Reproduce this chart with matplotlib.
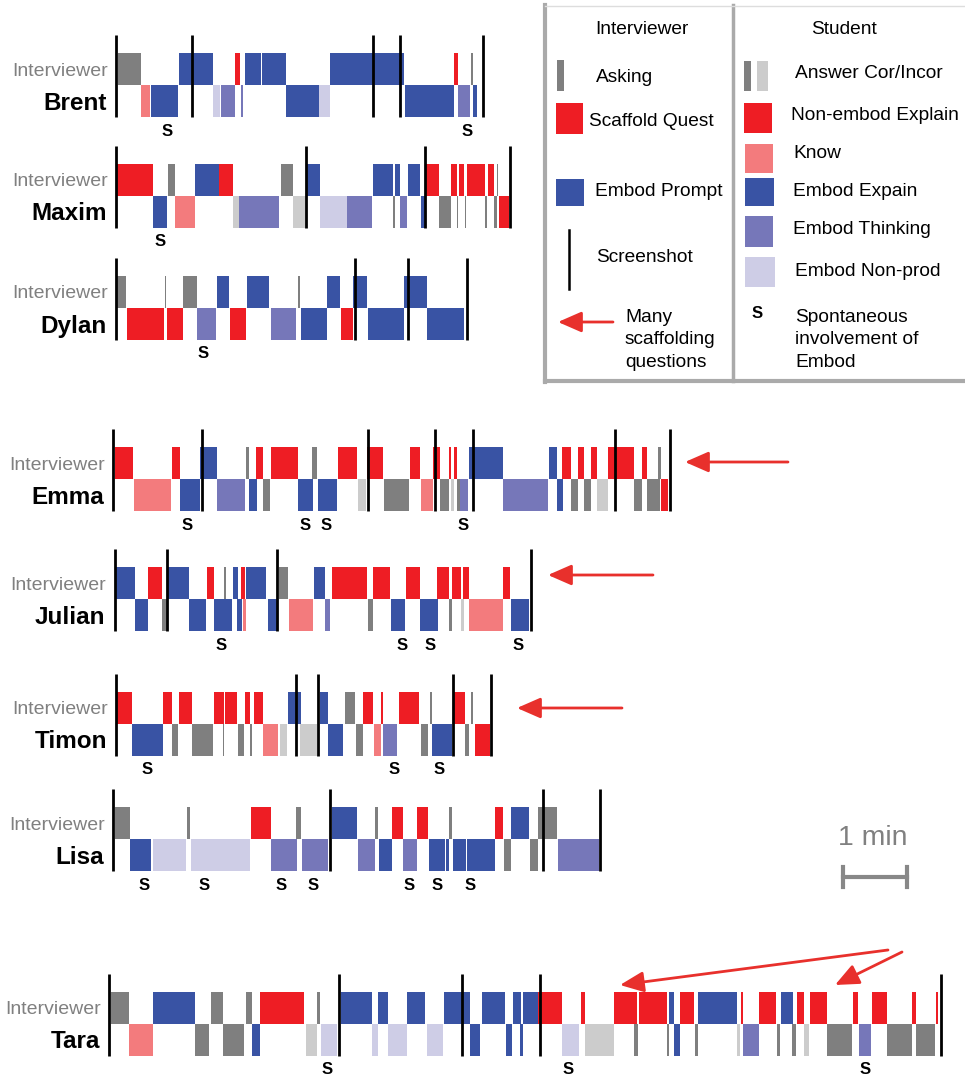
import matplotlib.pyplot as plt
from matplotlib.patches import Rectangle

plt.rcParams['font.family'] = ['Liberation Sans', 'DejaVu Sans']

# Segments are (start s, end s, code), time in seconds from the start of each session
brent_int = [(2, 23, 'ask'), (59, 91, 'prompt'), (112, 116, 'scaf'), (121, 136, 'prompt'),
             (137, 159, 'prompt'), (201, 270, 'prompt'), (317, 321, 'scaf'), (333, 334.5, 'ask')]
brent_stu = [(23, 32, 'know'), (33, 58, 'expl'), (91, 97.5, 'nonprod'), (98, 112, 'think'),
             (117, 119, 'think'), (159, 190, 'expl'), (190, 201, 'nonprod'), (271, 317, 'expl'),
             (321, 332, 'think'), (335, 338, 'expl')]
brent_shots = [0, 71, 241, 266, 344]
brent_s = [48, 329]

maxim_int = [(0, 35, 'scaf'), (49, 55, 'ask'), (74, 97, 'prompt'), (97, 110, 'scaf'),
             (155, 166, 'ask'), (178, 191, 'prompt'), (241, 260, 'prompt'), (262, 266, 'prompt'),
             (274, 285, 'prompt'), (291, 303, 'scaf'), (314, 320, 'scaf'), (322, 326, 'scaf'),
             (329, 346, 'scaf'), (349, 354, 'scaf'), (357, 358.5, 'ask')]
maxim_stu = [(35, 48, 'expl'), (55, 74, 'know'), (110, 115, 'incor'), (115, 153, 'think'),
             (166, 178, 'incor'), (191, 217, 'nonprod'), (217, 240, 'think'), (260, 262, 'cor'),
             (266, 273, 'think'), (286, 291, 'expl'), (303, 314, 'cor'), (320, 321, 'cor'),
             (327, 328, 'cor'), (346, 348, 'cor'), (354, 357, 'cor'), (359, 368, 'nonemb')]
maxim_shots = [0, 178, 290, 369]
maxim_s = [41]

dylan_int = [(0, 9, 'ask'), (46, 47, 'ask'), (63, 76, 'ask'), (95, 106, 'prompt'),
             (123, 143, 'prompt'), (171, 172.5, 'ask'), (198, 210, 'prompt'), (222, 235, 'prompt'),
             (270, 292, 'prompt')]
dylan_stu = [(10, 45, 'nonemb'), (48, 63, 'nonemb'), (76, 94, 'think'), (107, 122, 'nonemb'),
             (145, 169, 'think'), (173, 198, 'expl'), (211, 222, 'nonemb'), (236, 270, 'expl'),
             (292, 326, 'expl')]
dylan_shots = [0, 224, 274, 329]
dylan_s = [82]

emma_int = [(2, 19, 'scaf'), (55, 63, 'scaf'), (82, 97.5, 'prompt'), (125, 127.5, 'ask'),
            (134, 141, 'scaf'), (148, 173, 'scaf'), (187, 191, 'ask'), (211, 229, 'scaf'),
            (238, 253, 'scaf'), (278, 288, 'scaf'), (300, 307, 'scaf'), (315, 317, 'scaf'),
            (320, 322.5, 'scaf'), (334, 366, 'prompt'), (409, 416, 'prompt'), (421, 429, 'scaf'),
            (436, 442, 'scaf'), (448, 454, 'scaf'), (464, 488, 'scaf'), (496, 501, 'scaf'),
            (511, 514, 'ask')]
emma_stu = [(20, 54, 'know'), (63, 82, 'expl'), (97.5, 124, 'think'), (127.5, 135, 'expl'),
            (141, 147, 'cor'), (173, 187.5, 'expl'), (192, 210, 'expl'), (230, 237, 'incor'),
            (254, 277.5, 'cor'), (289, 300, 'know'), (307, 315, 'cor'), (317, 320, 'incor'),
            (322.5, 325, 'cor'), (325, 333, 'think'), (366, 408, 'think'), (416, 422, 'expl'),
            (429, 436, 'cor'), (442, 448, 'cor'), (454, 464, 'incor'), (488, 496, 'cor'),
            (501, 513, 'cor'), (514, 520, 'nonemb')]
emma_shots = [0, 83, 239, 302, 337.5, 471, 522]
emma_s = [69, 180, 200, 328]

julian_int = [(2, 20, 'prompt'), (32, 45, 'scaf'), (50, 70, 'prompt'), (87, 94, 'scaf'),
              (103, 105, 'ask'), (111.5, 116, 'prompt'), (119, 123, 'scaf'), (124, 142.5, 'prompt'),
              (155, 163, 'ask'), (187.5, 198, 'prompt'), (204, 237, 'scaf'), (243, 259, 'scaf'),
              (274, 287, 'scaf'), (303, 314, 'scaf'), (317, 325, 'scaf'), (327, 333, 'scaf'),
              (365, 371, 'scaf')]
julian_stu = [(20, 32, 'expl'), (45, 51, 'cor'), (70, 86, 'expl'), (94, 111, 'expl'),
              (115, 120, 'expl'), (121, 124, 'know'), (144, 153, 'expl'), (164, 187, 'know'),
              (198, 202.5, 'think'), (238, 243, 'cor'), (260, 273, 'expl'), (287, 304, 'expl'),
              (314, 317, 'cor'), (325, 328, 'incor'), (333, 365, 'know'), (372, 389, 'expl')]
julian_shots = [1, 50, 153, 391]
julian_s = [100, 270, 296, 379]

timon_int = [(0, 15, 'scaf'), (44, 52.5, 'scaf'), (59, 71, 'scaf'), (92, 101, 'scaf'),
             (102, 113, 'scaf'), (121, 126, 'scaf'), (129, 138, 'scaf'), (161, 173, 'prompt'),
             (191, 199, 'prompt'), (215, 224, 'ask'), (232, 241, 'scaf'), (248, 250, 'scaf'),
             (265, 284, 'scaf'), (294, 296, 'ask'), (317, 327, 'scaf'), (333, 335, 'ask')]
timon_stu = [(15, 44, 'expl'), (52.5, 58, 'cor'), (71, 91, 'cor'), (100, 101.5, 'cor'),
             (114, 120, 'cor'), (126, 127.5, 'cor'), (138, 152, 'know'), (154, 160, 'incor'),
             (172.5, 188, 'incor'), (199, 213, 'expl'), (225, 232, 'cor'), (242, 248, 'know'),
             (250, 263, 'think'), (286, 292.5, 'cor'), (296, 315, 'expl'), (327, 331, 'cor'),
             (337, 351, 'nonemb')]
timon_shots = [0, 169, 189, 316, 351.5]
timon_s = [29, 261, 303]

lisa_int = [(2, 16, 'ask'), (69, 72, 'ask'), (129, 148, 'scaf'), (172, 176, 'ask'),
            (205, 229, 'prompt'), (246, 248, 'ask'), (262, 272, 'scaf'), (285, 295, 'scaf'),
            (315, 318, 'ask'), (358, 366, 'scaf'), (373, 390, 'prompt'), (398, 416, 'ask')]
lisa_stu = [(16, 36, 'expl'), (37.5, 68, 'nonprod'), (73, 128, 'nonprod'), (148, 172.5, 'think'),
            (177, 201.5, 'think'), (230, 246, 'think'), (249, 261.5, 'expl'), (272, 285, 'think'),
            (296, 311, 'expl'), (312, 315, 'expl'), (319, 331, 'expl'), (332, 358, 'expl'),
            (366.5, 373, 'cor'), (391, 398, 'cor'), (417, 456, 'think')]
lisa_shots = [0, 203, 403, 456.5]
lisa_s = [29, 85, 157.5, 187.5, 277.5, 304, 335]

tara_int = [(2, 19, 'ask'), (41, 81, 'prompt'), (96, 107, 'ask'), (128, 134, 'ask'),
            (142, 183, 'scaf'), (195, 198, 'ask'), (217.5, 246.5, 'prompt'), (252, 261.5, 'prompt'),
            (279, 296, 'prompt'), (314, 338, 'prompt'), (350, 371, 'prompt'), (379, 386, 'prompt'),
            (388, 402, 'prompt'), (402, 425, 'scaf'), (442.5, 446, 'scaf'), (473, 495, 'scaf'),
            (497, 523, 'scaf'), (525, 530, 'prompt'), (535, 548, 'scaf'), (552, 589, 'prompt'),
            (592.5, 594.5, 'scaf'), (609, 625, 'scaf'), (630, 641, 'prompt'), (645, 652, 'scaf'),
            (657, 673, 'scaf'), (697.5, 702, 'scaf'), (715, 729, 'scaf'), (753, 756.5, 'scaf'),
            (775, 777, 'scaf')]
tara_stu = [(19, 41, 'know'), (81, 94, 'cor'), (107, 127, 'cor'), (134, 141.5, 'expl'),
            (185, 195, 'incor'), (199, 214, 'nonprod'), (246.5, 252, 'nonprod'), (261.5, 279, 'nonprod'),
            (298, 313, 'nonprod'), (338, 348, 'expl'), (372, 378, 'expl'), (385, 388, 'expl'),
            (425, 441, 'nonprod'), (446, 473, 'incor'), (492, 496, 'cor'), (523, 525, 'cor'),
            (530, 535, 'expl'), (549, 552, 'cor'), (589, 591.5, 'incor'), (594.5, 609, 'think'),
            (626, 629, 'cor'), (640, 644, 'cor'), (651.5, 656, 'incor'), (673, 696.5, 'cor'),
            (703, 714, 'think'), (729, 753, 'cor'), (756.5, 774, 'cor')]
tara_shots = [0, 215.5, 331, 404, 780]
tara_s = [204, 430, 709]

names = ['Brent', 'Maxim', 'Dylan', 'Emma', 'Julian', 'Timon', 'Lisa', 'Tara']
interviewer = [brent_int, maxim_int, dylan_int, emma_int, julian_int, timon_int, lisa_int, tara_int]
student = [brent_stu, maxim_stu, dylan_stu, emma_stu, julian_stu, timon_stu, lisa_stu, tara_stu]
shots = [brent_shots, maxim_shots, dylan_shots, emma_shots, julian_shots, timon_shots, lisa_shots, tara_shots]
spont = [brent_s, maxim_s, dylan_s, emma_s, julian_s, timon_s, lisa_s, tara_s]

colors = {'ask': '#7f7f7f', 'scaf': '#ee1d24', 'prompt': '#3953a4',
          'cor': '#7f7f7f', 'incor': '#cccccc', 'nonemb': '#ee1d24', 'know': '#f37b7d',
          'expl': '#3953a4', 'think': '#7677b9', 'nonprod': '#cecde6'}

# layout in pixels (figure is drawn in pixel coords)
row_x0 = [116, 116, 116, 113, 114, 116, 113, 109]
row_top = [53, 164, 276, 447, 567, 692, 807, 992]
band = 32
pps = 64 / 60  # pixels per second
red = '#e8302c'
gray_txt = '#808080'

fig = plt.figure(figsize=(9.65, 10.83), dpi=100)
ax = fig.add_axes([0, 0, 1, 1])
ax.set_xlim(0, 965)
ax.set_ylim(1083, 0)
ax.axis('off')

for i, name in enumerate(names):
    x0, top = row_x0[i], row_top[i]
    for (a, b, c) in interviewer[i]:
        ax.bar(x0 + a * pps, band, width=(b - a) * pps, bottom=top, align='edge',
               color=colors[c], linewidth=0)
    for (a, b, c) in student[i]:
        ax.bar(x0 + a * pps, band, width=(b - a) * pps, bottom=top + band, align='edge',
               color=colors[c], linewidth=0)
    for t in shots[i]:
        ax.plot([x0 + t * pps] * 2, [top - 18, top + 2 * band], color='black', lw=2.0,
                solid_capstyle='butt')
    for t in spont[i]:
        ax.text(x0 + t * pps, top + 2 * band + 14, 'S', ha='center', va='center',
                fontsize=12, fontweight='bold')
    ax.text(x0 - 8, top + band / 2 + 2, 'Interviewer', ha='right', va='center',
            fontsize=14, color=gray_txt)
    ax.text(x0 - 9, top + 1.5 * band + 2, name, ha='right', va='center',
            fontsize=17.5, fontweight='bold')

# arrows for many scaffolding questions
arrow_kw = dict(arrowstyle='-|>,head_length=0.8,head_width=0.35', color=red, lw=2,
                mutation_scale=18, shrinkA=0, shrinkB=0)
for tail, tip in [((788, 462), (685, 462)), ((653, 575), (548, 575)),
                  ((622, 708), (517, 708)), ((888, 950), (620, 985)),
                  ((902, 952), (835, 985))]:
    ax.annotate('', xy=tip, xytext=tail, arrowprops=arrow_kw)

# scale bar
ax.text(873, 838, '1 min', ha='center', va='center', fontsize=20.5, color=gray_txt)
sb_x = 843
ax.plot([sb_x, sb_x + 60 * pps], [877, 877], color='#888888', lw=3)
for xx in [sb_x, sb_x + 60 * pps]:
    ax.plot([xx, xx], [867, 887], color='#888888', lw=3)

# legend box
box_c = '#aaaaaa'
ax.plot([545, 545], [5, 382], color=box_c, lw=3)
ax.plot([545, 965], [381, 381], color=box_c, lw=3)
ax.plot([733, 733], [5, 381], color=box_c, lw=2.5)
ax.plot([545, 965], [6, 6], color='#dddddd', lw=1)

fs = 13.8
ax.text(642, 29, 'Interviewer', ha='center', va='center', fontsize=fs)
ax.text(844, 29, 'Student', ha='center', va='center', fontsize=fs)

ax.add_patch(Rectangle((557, 60), 7, 31, color=colors['ask'], lw=0))
ax.text(596, 77, 'Asking', va='center', fontsize=fs)
ax.add_patch(Rectangle((556, 103), 27, 31, color=colors['scaf'], lw=0))
ax.text(589, 121, 'Scaffold Quest', va='center', fontsize=fs)
ax.add_patch(Rectangle((556, 179), 28, 27, color=colors['prompt'], lw=0))
ax.text(595, 192, 'Embod Prompt', va='center', fontsize=fs)
ax.plot([569, 569], [230, 289], color='black', lw=1.8)
ax.text(596, 257, 'Screenshot', va='center', fontsize=fs)
ax.annotate('', xy=(558, 322), xytext=(613, 322), arrowprops=arrow_kw)
ax.text(625, 340, 'Many\nscaffolding\nquestions', va='center', fontsize=fs, linespacing=1.45)

ax.add_patch(Rectangle((744, 61), 7, 30, color=colors['cor'], lw=0))
ax.add_patch(Rectangle((757, 61), 11, 30, color=colors['incor'], lw=0))
ax.text(795, 74, 'Answer Cor/Incor', va='center', fontsize=fs)
ax.add_patch(Rectangle((744, 103), 28, 30, color=colors['nonemb'], lw=0))
ax.text(791, 115, 'Non-embod Explain', va='center', fontsize=fs)
ax.add_patch(Rectangle((745, 144), 28, 29, color=colors['know'], lw=0))
ax.text(793, 154, 'Know', va='center', fontsize=fs)
ax.add_patch(Rectangle((745, 178), 29, 28, color=colors['expl'], lw=0))
ax.text(793, 191, 'Embod Expain', va='center', fontsize=fs)
ax.add_patch(Rectangle((745, 216), 28, 31, color=colors['think'], lw=0))
ax.text(793, 230, 'Embod Thinking', va='center', fontsize=fs)
ax.add_patch(Rectangle((745, 257), 30, 30, color=colors['nonprod'], lw=0))
ax.text(795, 271, 'Embod Non-prod', va='center', fontsize=fs)
ax.text(757, 314, 'S', ha='center', va='center', fontsize=12, fontweight='bold')
ax.text(795, 340, 'Spontaneous\ninvolvement of\nEmbod', va='center', fontsize=fs, linespacing=1.45)

fig.savefig('out.png', dpi=100)
